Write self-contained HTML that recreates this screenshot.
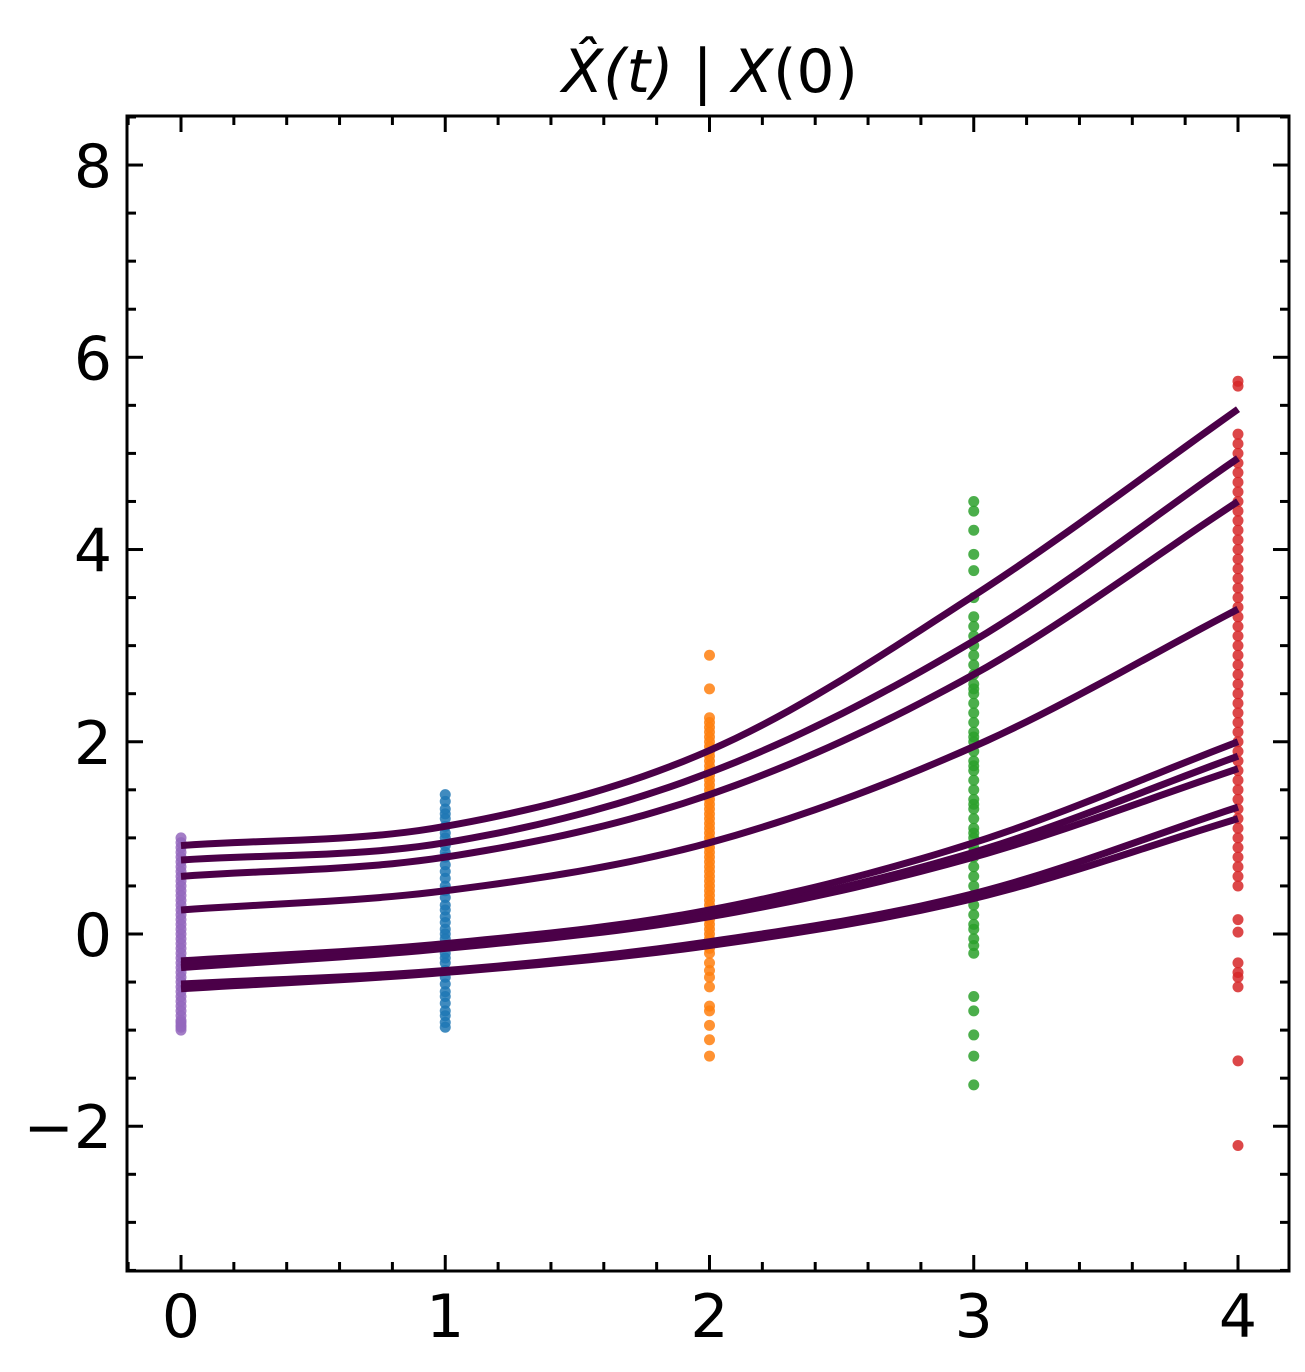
<!DOCTYPE html>
<html><head><meta charset="utf-8"><style>
body{margin:0;background:#fff}
svg text{font-family:"DejaVu Sans","Liberation Sans",sans-serif;fill:#000}
</style></head><body>
<svg id="chart" width="1305" height="1367" xmlns="http://www.w3.org/2000/svg">
<text x="710" y="92" font-size="60" text-anchor="middle" font-style="italic">X̂(t)<tspan font-style="normal"> | </tspan>X<tspan font-style="normal">(0)</tspan></text>
<g id="marks"></g>
<g id="axes"></g>
</svg>
<script>
const xTicks=[0,1,2,3,4];
const yTicks=[-2,0,2,4,6,8];
const yTickLabels=["−2","0","2","4","6","8"];
const times=[0,1,2,3,4];
const curve1=[0.92,1.12,1.91,3.52,5.46];
const curve2=[0.77,0.95,1.68,3.05,4.95];
const curve3=[0.6,0.8,1.45,2.7,4.5];
const curve4=[0.25,0.45,0.95,1.95,3.38];
const curve5=[-0.28,-0.1,0.25,0.95,2.0];
const curve6=[-0.32,-0.13,0.2,0.85,1.85];
const curve7=[-0.35,-0.15,0.18,0.8,1.72];
const curve8=[-0.52,-0.38,-0.08,0.42,1.32];
const curve9=[-0.57,-0.4,-0.12,0.37,1.2];
const curves=[curve1,curve2,curve3,curve4,curve5,curve6,curve7,curve8,curve9];
const pts0=[-1,-0.97,-0.95,-0.92,-0.9,-0.85,-0.8,-0.75,-0.7,-0.65,-0.6,-0.55,-0.5,-0.45,-0.4,-0.35,-0.3,-0.25,-0.2,-0.15,-0.1,-0.05,0,0.05,0.1,0.15,0.2,0.25,0.3,0.35,0.4,0.45,0.5,0.55,0.6,0.65,0.7,0.75,0.8,0.85,0.9,0.95,1];
const pts1=[-0.97,-0.92,-0.85,-0.8,-0.72,-0.65,-0.6,-0.52,-0.45,-0.38,-0.3,-0.25,-0.2,-0.12,-0.05,0,0.05,0.12,0.18,0.25,0.3,0.38,0.45,0.5,0.58,0.65,0.72,0.8,0.85,0.92,1.0,1.05,1.12,1.2,1.25,1.3,1.38,1.45];
const pts2=[-1.27,-1.1,-0.95,-0.8,-0.75,-0.55,-0.45,-0.38,-0.3,-0.2,-0.15,-0.05,0,0.05,0.1,0.15,0.2,0.25,0.3,0.35,0.4,0.45,0.5,0.55,0.6,0.65,0.7,0.75,0.8,0.85,0.9,0.95,1.0,1.05,1.1,1.15,1.2,1.25,1.3,1.35,1.4,1.45,1.5,1.55,1.6,1.65,1.7,1.75,1.8,1.85,1.9,1.95,2.0,2.05,2.1,2.15,2.2,2.25,2.55,2.9];
const pts3=[-1.57,-1.27,-1.05,-0.8,-0.65,-0.2,-0.12,-0.05,0.05,0.1,0.2,0.3,0.4,0.5,0.6,0.7,0.8,0.85,0.9,1.0,1.05,1.1,1.2,1.3,1.35,1.4,1.5,1.6,1.7,1.75,1.8,1.9,2.0,2.05,2.1,2.2,2.3,2.4,2.5,2.55,2.6,2.7,2.8,2.9,3.0,3.1,3.2,3.3,3.5,3.78,3.95,4.2,4.4,4.5];
const pts4=[-2.2,-1.32,-0.55,-0.45,-0.4,-0.3,0.02,0.15,0.5,0.6,0.7,0.8,0.9,1.0,1.1,1.2,1.3,1.4,1.5,1.6,1.7,1.8,1.9,2.0,2.1,2.2,2.3,2.4,2.5,2.6,2.7,2.8,2.9,3.0,3.1,3.2,3.3,3.4,3.5,3.6,3.7,3.8,3.9,4.0,4.1,4.2,4.3,4.4,4.5,4.6,4.7,4.8,4.9,5.0,5.1,5.2,5.7,5.75];
const scatterSets=[[0,pts0,"#9467bd"],[1,pts1,"#1f77b4"],[2,pts2,"#ff7f0e"],[3,pts3,"#2ca02c"],[4,pts4,"#d62728"]];
const L=127,R=1289,T=116,B=1271;
const X=v=>181+v*264.25;
const Y=v=>934-v*96.12;
const NS="http://www.w3.org/2000/svg";
const marks=document.getElementById('marks'),axes=document.getElementById('axes');
function mk(tag,attrs,parent){const e=document.createElementNS(NS,tag);for(const k in attrs)e.setAttribute(k,attrs[k]);parent.appendChild(e);return e;}
scatterSets.forEach(s=>{s[1].forEach(v=>{
 const c=mk('circle',{cx:X(s[0]),cy:Y(v),r:5.5,fill:s[2],'fill-opacity':0.85},marks);
 
 
});});
function interp(ys,t){const i=Math.min(3,Math.floor(t));const u=t-i;
 const g=j=>j<0?2*ys[0]-ys[1]:(j>4?2*ys[4]-ys[3]:ys[j]);
 const p0=g(i-1),p1=g(i),p2=g(i+1),p3=g(i+2);
 return 0.5*((2*p1)+(-p0+p2)*u+(2*p0-5*p1+4*p2-p3)*u*u+(-p0+3*p1-3*p2+p3)*u*u*u);}
curves.forEach(c=>{let d='';for(let k=0;k<=80;k++){const t=k/20;d+=(k?'L':'M')+X(t)+','+Y(interp(c,t));}
 const p=mk('path',{d:d,fill:'none',stroke:'#4b0048','stroke-width':7},marks);
 
 
});
const frame=mk('rect',{x:L,y:T,width:R-L,height:B-T,fill:'none',stroke:'#000','stroke-width':3},axes);


for(let k=-1;k<=21;k++){const v=k*0.2;const x=X(v);if(x<L||x>R)continue;const len=k%5===0?16:9;
 mk('line',{x1:x,x2:x,y1:B,y2:B-len,stroke:'#000','stroke-width':3},axes);
 mk('line',{x1:x,x2:x,y1:T,y2:T+len,stroke:'#000','stroke-width':3},axes);}
for(let k=-8;k<=18;k++){const v=k*0.5;const y=Y(v);if(y<T||y>B)continue;const len=k%4===0?16:9;
 mk('line',{x1:L,x2:L+len,y1:y,y2:y,stroke:'#000','stroke-width':3},axes);
 mk('line',{x1:R,x2:R-len,y1:y,y2:y,stroke:'#000','stroke-width':3},axes);}
xTicks.forEach(v=>{const t=mk('text',{x:X(v),y:1337,'font-size':60,'text-anchor':'middle'},axes);t.textContent=v;
 
 });
yTicks.forEach((v,i)=>{const t=mk('text',{x:112,y:Y(v)+22,'font-size':60,'text-anchor':'end'},axes);t.textContent=yTickLabels[i];
 
 });
</script>
</body></html>
